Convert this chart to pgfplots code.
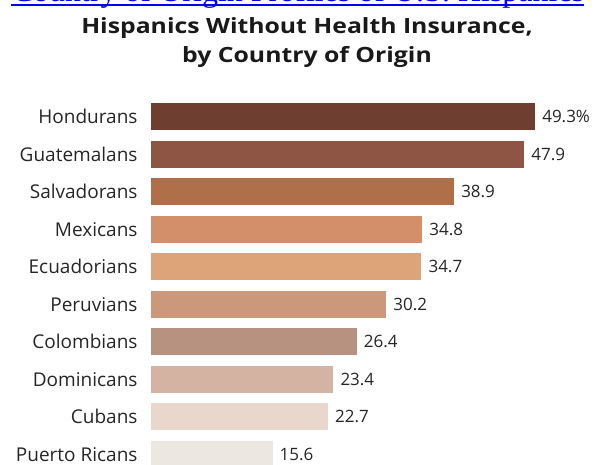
\documentclass[border=0pt]{standalone}
\usepackage{pgfplots}
\pgfplotsset{compat=1.18}
\usepackage{fontspec}
\setmainfont{Open Sans}
\newfontfamily\linkfont{Liberation Serif}
\definecolor{cHon}{HTML}{6E3F30}
\definecolor{cGua}{HTML}{8E5444}
\definecolor{cSal}{HTML}{AF6F49}
\definecolor{cMex}{HTML}{D38F69}
\definecolor{cEcu}{HTML}{DCA478}
\definecolor{cPer}{HTML}{CB987C}
\definecolor{cCol}{HTML}{B89280}
\definecolor{cDom}{HTML}{D4B3A3}
\definecolor{cCub}{HTML}{E8D7CA}
\definecolor{cPue}{HTML}{ECE7E1}
\definecolor{linkblue}{HTML}{0000EE}
\begin{document}
\begin{tikzpicture}[x=1pt,y=1pt]
\useasboundingbox (0,0) rectangle (596,464);
\clip (0,0) rectangle (596,464);
% cut-off link line at the top
\node[anchor=base, inner sep=0pt, text=linkblue, font=\linkfont\fontsize{32}{32}\selectfont] at (298,462.5) {Country of Origin Profiles of U.S. Hispanics};
\draw[linkblue, line width=2pt] (11,459) -- (584,459);
% title
\node[anchor=base, inner sep=0pt, font=\bfseries\fontsize{21}{21}\selectfont, text=black!90] at (307,430.5) {\scalebox{1.18}[1]{Hispanics Without Health Insurance,}};
\node[anchor=base, inner sep=0pt, font=\bfseries\fontsize{21}{21}\selectfont, text=black!90] at (307,401) {\scalebox{1.18}[1]{by Country of Origin}};
\begin{axis}[
  at={(151pt,-8.95pt)}, anchor=south west,
  scale only axis, width=445pt, height=375pt,
  xmin=0, xmax=57.12, ymin=-0.5, ymax=9.5,
  y dir=reverse,
  xbar, clip=false,
  axis line style={draw=none},
  major tick length=0pt,
  xtick=\empty,
  ytick={0,1,2,3,4,5,6,7,8,9},
  yticklabels={Hondurans,Guatemalans,Salvadorans,Mexicans,Ecuadorians,Peruvians,Colombians,Dominicans,Cubans,Puerto Ricans},
  yticklabel style={anchor=east, inner sep=0pt, xshift=-13.3pt, font=\fontsize{19}{19}\selectfont, text=black!85},
  every axis plot/.append style={bar shift=0pt, bar width=27pt, draw=none},
  nodes near coords,
  nodes near coords style={anchor=west, inner sep=0pt, xshift=7pt, font=\fontsize{17}{17}\selectfont, text=black!85,
    /pgf/number format/assume math mode=true,
    /pgf/number format/fixed, /pgf/number format/precision=1, /pgf/number format/fixed zerofill},
]
\addplot[fill=cHon, nodes near coords={49.3\%}] coordinates {(49.3,0)};
\addplot[fill=cGua] coordinates {(47.9,1)};
\addplot[fill=cSal] coordinates {(38.9,2)};
\addplot[fill=cMex] coordinates {(34.8,3)};
\addplot[fill=cEcu] coordinates {(34.7,4)};
\addplot[fill=cPer] coordinates {(30.2,5)};
\addplot[fill=cCol] coordinates {(26.4,6)};
\addplot[fill=cDom] coordinates {(23.4,7)};
\addplot[fill=cCub] coordinates {(22.7,8)};
\addplot[fill=cPue] coordinates {(15.6,9)};
\end{axis}
\end{tikzpicture}
\end{document}
